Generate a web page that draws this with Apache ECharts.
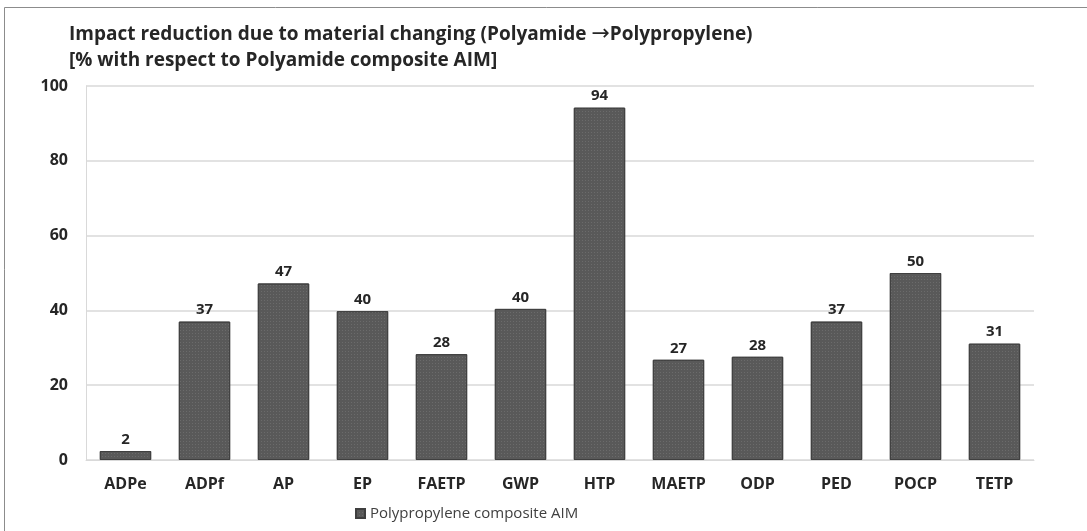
<!DOCTYPE html>
<html><head><meta charset="utf-8">
<script src="https://cdn.jsdelivr.net/npm/echarts@6/dist/echarts.min.js"></script>
<style>html,body{margin:0;padding:0;background:#fff}#c{width:1087px;height:531px}</style>
</head><body><div id="c"></div>
<script>
const categories = ['ADPe','ADPf','AP','EP','FAETP','GWP','HTP','MAETP','ODP','PED','POCP','TETP'];
const values = [2.4, 37, 47.2, 39.8, 28.3, 40.4, 94.2, 26.8, 27.6, 37, 50, 31.1];
const seriesName = 'Polypropylene composite AIM';
const titleLines = ['Impact reduction due to material changing (Polyamide \u2192Polypropylene)', '[% with respect to Polyamide composite AIM]'];
const fontFam = "'Open Sans',sans-serif";
const titleText = titleLines.map(l => l.replace('\u2192', '{a|\u2192}')).join('\n');
const chart = echarts.init(document.getElementById('c'), null, {renderer:'canvas'});
chart.setOption({
  animation:false,
  backgroundColor:'#fff',
  graphic:[{type:'rect',shape:{x:4.5,y:7.5,width:1100,height:540},style:{fill:'none',stroke:'#8c8c8c',lineWidth:1},silent:true}],
  title:{text:titleText,left:64,top:17,textStyle:{fontFamily:fontFam,fontWeight:'bold',fontSize:19,color:'#262626',lineHeight:26,
    rich:{a:{fontFamily:"'DejaVu Sans'",fontWeight:'normal',fontSize:22,color:'#262626',lineHeight:26,padding:[0,0,2,0]}}}},
  legend:{bottom:5,left:350,itemWidth:9,itemHeight:9,itemGap:6,icon:'rect',textStyle:{fontFamily:fontFam,fontSize:15,color:'#404040'},data:[seriesName]},
  grid:{left:86,right:53,top:86,bottom:71},
  xAxis:{type:'category',data:categories,axisLine:{lineStyle:{color:'#d9d9d9'}},axisTick:{show:false},
    axisLabel:{fontFamily:fontFam,fontWeight:'bold',fontSize:16,color:'#262626',margin:16}},
  yAxis:{type:'value',min:0,max:100,interval:20,axisLine:{show:true,lineStyle:{color:'#d9d9d9'}},
    splitLine:{lineStyle:{color:'#d9d9d9',width:1.5}},
    axisLabel:{fontFamily:fontFam,fontWeight:'bold',fontSize:16,color:'#262626',margin:18}},
  series:[{name:seriesName,type:'bar',data:values,barCategoryGap:'35%',
    itemStyle:{color:'#595959',borderColor:'#3f3f3f',borderWidth:1,
      decal:{symbol:'rect',symbolSize:1,color:'rgba(120,120,120,0.6)',dashArrayX:[1,2],dashArrayY:[1,2]}},
    label:{show:true,position:'top',distance:4,fontFamily:fontFam,fontWeight:'bold',fontSize:15,color:'#262626',
      formatter:p=>Math.round(p.value)}}]
});
</script></body></html>
